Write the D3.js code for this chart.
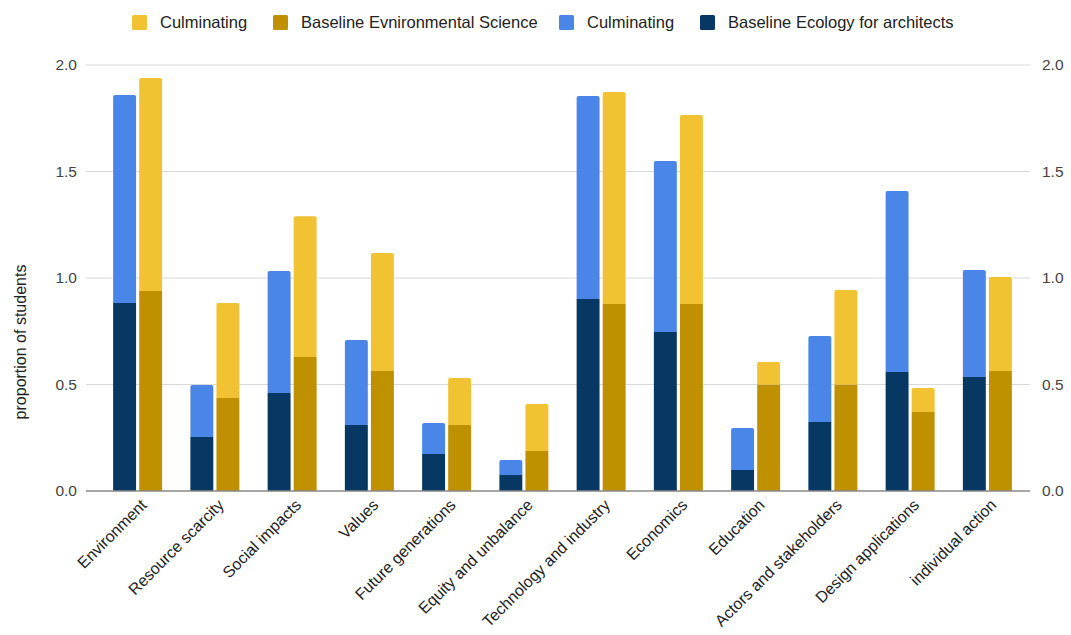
<!DOCTYPE html>
<html>
<head>
<meta charset="utf-8">
<script src="https://cdn.jsdelivr.net/npm/d3@7"></script>
<style>
  body { margin: 0; background: #fff; }
  svg { font-family: "Liberation Sans", Arial, sans-serif; }
</style>
</head>
<body>
<svg width="1071" height="635"></svg>
<script>
var width = 1071, height = 635;

// categories and values (stacked: baseline + culminating on top)
var categories = ["Environment", "Resource scarcity", "Social impacts", "Values", "Future generations",
  "Equity and unbalance", "Technology and industry", "Economics", "Education",
  "Actors and stakeholders", "Design applications", "individual action"];
var baselineEcology = [0.883, 0.254, 0.46, 0.31, 0.174, 0.075, 0.901, 0.746, 0.099, 0.324, 0.559, 0.535];
var culminatingEcology = [0.976, 0.244, 0.573, 0.399, 0.145, 0.071, 0.953, 0.803, 0.197, 0.404, 0.849, 0.503];
var baselineEnvSci = [0.939, 0.437, 0.629, 0.563, 0.31, 0.188, 0.878, 0.878, 0.5, 0.5, 0.371, 0.563];
var culminatingEnvSci = [1.0, 0.446, 0.661, 0.554, 0.22, 0.22, 0.995, 0.887, 0.106, 0.444, 0.113, 0.442];
var yTicks = [0, 0.5, 1.0, 1.5, 2.0];

var colors = {
  yellow: "#f1c232", gold: "#bf9000", blue: "#4a86e8", navy: "#073763"
};

var legendItems = [
  { label: "Culminating", color: colors.yellow },
  { label: "Baseline Evnironmental Science", color: colors.gold },
  { label: "Culminating", color: colors.blue },
  { label: "Baseline Ecology for architects", color: colors.navy }
];

var svg = d3.select("svg");

var gridLeft = 86, gridRight = 1030;

var x = d3.scaleBand()
  .domain(categories)
  .range([99, 1026])
  .paddingInner(0)
  .paddingOuter(0);

var inner = d3.scaleBand()
  .domain(["eco", "env"])
  .range([x.bandwidth() / 2 - 24.5, x.bandwidth() / 2 + 24.5])
  .paddingInner(0.12);

var y = d3.scaleLinear()
  .domain([0, 2])
  .range([491, 65]);

// gridlines
svg.append("g")
  .selectAll("line")
  .data(yTicks.slice(1))
  .enter().append("line")
  .attr("x1", gridLeft).attr("x2", gridRight)
  .attr("y1", d => y(d)).attr("y2", d => y(d))
  .attr("stroke", "#d9d9d9").attr("stroke-width", 1);

// y axes (left & right)
var fmt = d3.format(".1f");
var leftAxis = svg.append("g")
  .attr("transform", `translate(${gridLeft - 6},0)`)
  .call(d3.axisLeft(y).tickValues(yTicks).tickFormat(fmt).tickSize(0));
var rightAxis = svg.append("g")
  .attr("transform", `translate(${gridRight + 9},0)`)
  .call(d3.axisRight(y).tickValues(yTicks).tickFormat(fmt).tickSize(0));
[leftAxis, rightAxis].forEach(function(a) {
  a.select(".domain").remove();
  a.selectAll("text")
    .attr("font-size", 15.5)
    .attr("fill", "#444")
    .attr("font-family", "Liberation Sans, Arial, sans-serif");
});

// y title
svg.append("text")
  .attr("transform", `translate(26,342) rotate(-90)`)
  .attr("text-anchor", "middle")
  .attr("font-size", 16)
  .attr("fill", "#222")
  .text("proportion of students");

// build stacked segments
function roundedTop(x0, y0, w, h, r) {
  r = Math.min(r, h);
  return `M${x0},${y0 + h}V${y0 + r}Q${x0},${y0} ${x0 + r},${y0}H${x0 + w - r}Q${x0 + w},${y0} ${x0 + w},${y0 + r}V${y0 + h}Z`;
}

var segments = [];
categories.forEach(function(c, i) {
  segments.push({ cat: c, group: "eco", y0: 0, y1: baselineEcology[i], color: colors.navy, top: false });
  segments.push({ cat: c, group: "eco", y0: baselineEcology[i], y1: baselineEcology[i] + culminatingEcology[i], color: colors.blue, top: true });
  segments.push({ cat: c, group: "env", y0: 0, y1: baselineEnvSci[i], color: colors.gold, top: false });
  segments.push({ cat: c, group: "env", y0: baselineEnvSci[i], y1: baselineEnvSci[i] + culminatingEnvSci[i], color: colors.yellow, top: true });
});

svg.append("g")
  .selectAll("path")
  .data(segments)
  .enter().append("path")
  .attr("fill", d => d.color)
  .attr("d", function(d) {
    var bx = x(d.cat) + inner(d.group);
    var w = inner.bandwidth();
    var yt = y(d.y1), h = y(d.y0) - y(d.y1);
    return d.top ? roundedTop(bx, yt, w, h, 2) : `M${bx},${yt}h${w}v${h}h${-w}Z`;
  });

// baseline
svg.append("line")
  .attr("x1", gridLeft).attr("x2", gridRight)
  .attr("y1", y(0)).attr("y2", y(0))
  .attr("stroke", "#888").attr("stroke-width", 1.5);

// x labels
svg.append("g")
  .selectAll("text")
  .data(categories)
  .enter().append("text")
  .attr("transform", d => `translate(${x(d) + x.bandwidth() / 2 + 10},${y(0) + 15}) rotate(-45)`)
  .attr("text-anchor", "end")
  .attr("font-size", 16)
  .attr("fill", "#222")
  .text(d => d);

// legend
var legend = svg.append("g");
var lx = [132, 273, 559, 700];
legendItems.forEach(function(d, i) {
  legend.append("rect")
    .attr("x", lx[i]).attr("y", 15)
    .attr("width", 15).attr("height", 15)
    .attr("rx", 1.5)
    .attr("fill", d.color);
  legend.append("text")
    .attr("x", lx[i] + 28).attr("y", 28)
    .attr("font-size", 16.5)
    .attr("fill", "#222")
    .text(d.label);
});
</script>
</body>
</html>
